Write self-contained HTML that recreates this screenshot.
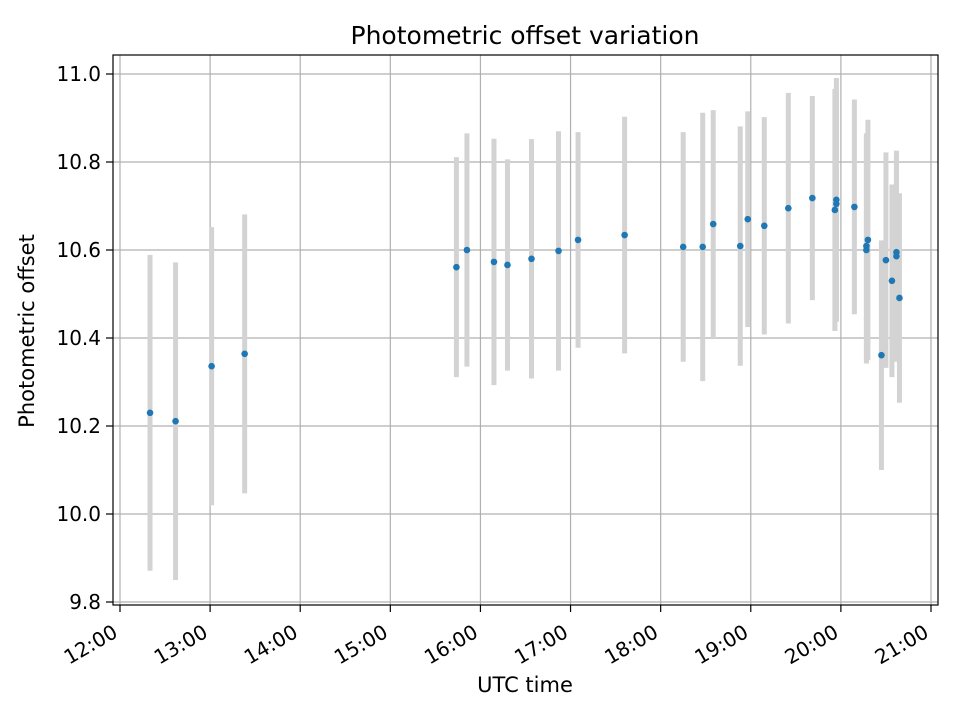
<!DOCTYPE html>
<html><head><meta charset="utf-8"><style>
html,body{margin:0;padding:0;background:#fff}
svg{display:block;font-family:"DejaVu Sans","Liberation Sans",sans-serif}
</style></head><body>
<svg id="chart" width="960" height="720" viewBox="0 0 960 720">
<rect width="960" height="720" fill="#fff"/>
<text x="525" y="44" font-size="25" text-anchor="middle" fill="#000">Photometric offset variation</text>
<text x="525" y="692" font-size="21" text-anchor="middle" fill="#000">UTC time</text>
<text transform="translate(34,331) rotate(-90)" font-size="21" text-anchor="middle" fill="#000">Photometric offset</text>
<g id="grid"></g>
<g id="errs"></g>
<g id="pts"></g>
<rect x="113" y="55" width="825" height="550" fill="none" stroke="#000" stroke-width="1.2"/>
<g id="ticks"></g>
</svg>
<script>
const times = ["12:20","12:37","13:01","13:23","15:44","15:51","16:09","16:18","16:34","16:52","17:05","17:36","18:15","18:28","18:35","18:53","18:58","19:09","19:25","19:41","19:57","19:57","19:56","20:09","20:18","20:17","20:17","20:27","20:30","20:34","20:37","20:37","20:39"];
const values = [10.230,10.211,10.336,10.364,10.561,10.600,10.573,10.566,10.580,10.598,10.623,10.634,10.607,10.607,10.659,10.609,10.670,10.655,10.695,10.718,10.714,10.705,10.691,10.698,10.623,10.609,10.600,10.361,10.577,10.530,10.595,10.586,10.491];
const errors = [0.359,0.361,0.316,0.317,0.250,0.265,0.280,0.240,0.272,0.272,0.245,0.269,0.261,0.305,0.259,0.272,0.245,0.247,0.262,0.232,0.277,0.264,0.275,0.244,0.273,0.256,0.258,0.261,0.245,0.219,0.217,0.240,0.238];
const yTicks = [9.8,10.0,10.2,10.4,10.6,10.8,11.0];
const yTickLabels = ["9.8","10.0","10.2","10.4","10.6","10.8","11.0"];
const xTicks = ["12:00","13:00","14:00","15:00","16:00","17:00","18:00","19:00","20:00","21:00"];

const NS="http://www.w3.org/2000/svg";
const L=113,R=938,T=55,B=605;
const xMin=11.9223,xMax=21.0778,yMin=9.7932,yMax=11.0432;
function hrs(s){const p=s.split(":");return +p[0]+ +p[1]/60;}
function sx(h){return L+(h-xMin)/(xMax-xMin)*(R-L);}
function sy(v){return B-(v-yMin)/(yMax-yMin)*(B-T);}
function mk(tag,attrs,parent){const e=document.createElementNS(NS,tag);for(const k in attrs)e.setAttribute(k,attrs[k]);parent.appendChild(e);return e;}
const grid=document.getElementById("grid"),ticks=document.getElementById("ticks"),errs=document.getElementById("errs"),pts=document.getElementById("pts");

yTicks.forEach((v,i)=>{
  const y=sy(v);
  const g=mk("line",{x1:L,x2:R,y1:y,y2:y,stroke:"#b0b0b0","stroke-width":1.2},grid);
  
  
  const t=mk("line",{x1:L-7,x2:L,y1:y,y2:y,stroke:"#000","stroke-width":1.2},ticks);
  
  
  const tx=mk("text",{x:L-12,y:y+7,"font-size":"20","text-anchor":"end",fill:"#000"},ticks);
  tx.textContent=yTickLabels[i];
  
  
});
xTicks.forEach(s=>{
  const x=sx(hrs(s));
  const g=mk("line",{x1:x,x2:x,y1:T,y2:B,stroke:"#b0b0b0","stroke-width":1.2},grid);
  
  
  const t=mk("line",{x1:x,x2:x,y1:B,y2:B+7,stroke:"#000","stroke-width":1.2},ticks);
  
  
  const tx=mk("text",{transform:"translate("+(x-1)+","+(B+31)+") rotate(-30)","font-size":"20","text-anchor":"end",fill:"#000"},ticks);
  tx.textContent=s;
  
  
});
times.forEach((s,i)=>{
  const x=sx(hrs(s));
  const e=mk("line",{x1:x,x2:x,y1:sy(values[i]+errors[i]),y2:sy(values[i]-errors[i]),stroke:"#d3d3d3","stroke-width":5},errs);
  
  
});
times.forEach((s,i)=>{
  const c=mk("circle",{cx:sx(hrs(s)),cy:sy(values[i]),r:3.3,fill:"#1f77b4"},pts);
  
  
});
</script>
</body></html>
